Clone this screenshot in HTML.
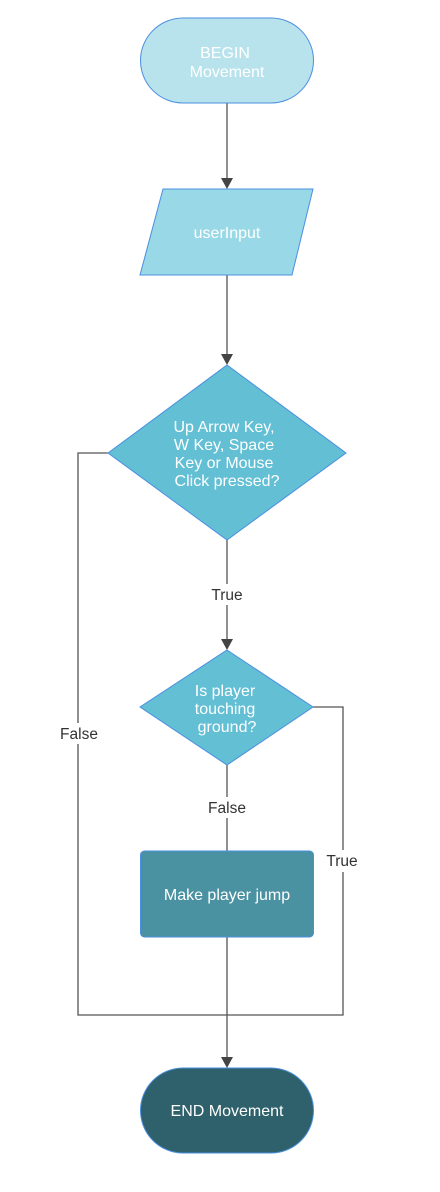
<!DOCTYPE html>
<html><head><meta charset="utf-8"><style>
html,body{margin:0;padding:0;background:#fff;width:440px;height:1192px;overflow:hidden}
text{font-family:"Liberation Sans",Arial,sans-serif;font-size:16px;text-anchor:middle}
.w{fill:#fff}.d{fill:#333;font-size:15.5px}
</style></head><body>
<svg width="440" height="1192" viewBox="0 0 440 1192" xmlns="http://www.w3.org/2000/svg">
<g stroke="#555" stroke-width="1.3" fill="none">
<line x1="227" y1="103" x2="227" y2="180"/>
<line x1="227" y1="275" x2="227" y2="356"/>
<line x1="227" y1="540" x2="227" y2="584"/>
<line x1="227" y1="605" x2="227" y2="642"/>
<line x1="227" y1="765" x2="227" y2="797"/>
<line x1="227" y1="818" x2="227" y2="851"/>
<line x1="227" y1="937" x2="227" y2="1060"/>
<polyline points="108,453 78,453 78,723"/>
<polyline points="78,744 78,1015 343,1015 343,872"/>
<polyline points="343,850 343,707 313,707"/>
</g>
<g fill="#444">
<polygon points="221,178 233,178 227,189"/>
<polygon points="221,354 233,354 227,365"/>
<polygon points="221,639 233,639 227,650"/>
<polygon points="221,1057 233,1057 227,1068"/>
</g>
<rect x="140.5" y="18" width="173" height="85" rx="42.5" fill="#b8e3ec" stroke="#4a8fe0" stroke-width="1"/>
<polygon points="163,189 313,189 292,275 140,275" fill="#99d8e6" stroke="#4a8fe0" stroke-width="1"/>
<polygon points="227,365 346,453 227,540 108,453" fill="#62bfd4" stroke="#4a8fe0" stroke-width="1"/>
<polygon points="227,650 313,707 227,765 140,707" fill="#62bfd4" stroke="#4a8fe0" stroke-width="1"/>
<rect x="140.5" y="851" width="173" height="86" rx="4" fill="#4a92a2" stroke="#4a8fe0" stroke-width="1"/>
<rect x="140.5" y="1068" width="173" height="85" rx="42.5" fill="#2e616b" stroke="#4a8fe0" stroke-width="1"/>
<text class="w" x="225" y="58">BEGIN</text>
<text class="w" x="227" y="77">Movement</text>
<text class="w" x="227" y="238">userInput</text>
<text class="w" x="224" y="432">Up Arrow Key,</text>
<text class="w" x="224" y="450">W Key, Space</text>
<text class="w" x="224" y="468">Key or Mouse</text>
<text class="w" x="227" y="486">Click pressed?</text>
<text class="w" x="225" y="696">Is player</text>
<text class="w" x="225" y="714">touching</text>
<text class="w" x="227" y="732">ground?</text>
<text class="w" x="227" y="900">Make player jump</text>
<text class="w" x="227" y="1116">END Movement</text>
<text class="d" x="227" y="600">True</text>
<text class="d" x="79" y="739">False</text>
<text class="d" x="227" y="813">False</text>
<text class="d" x="342" y="866">True</text>
</svg>
</body></html>
